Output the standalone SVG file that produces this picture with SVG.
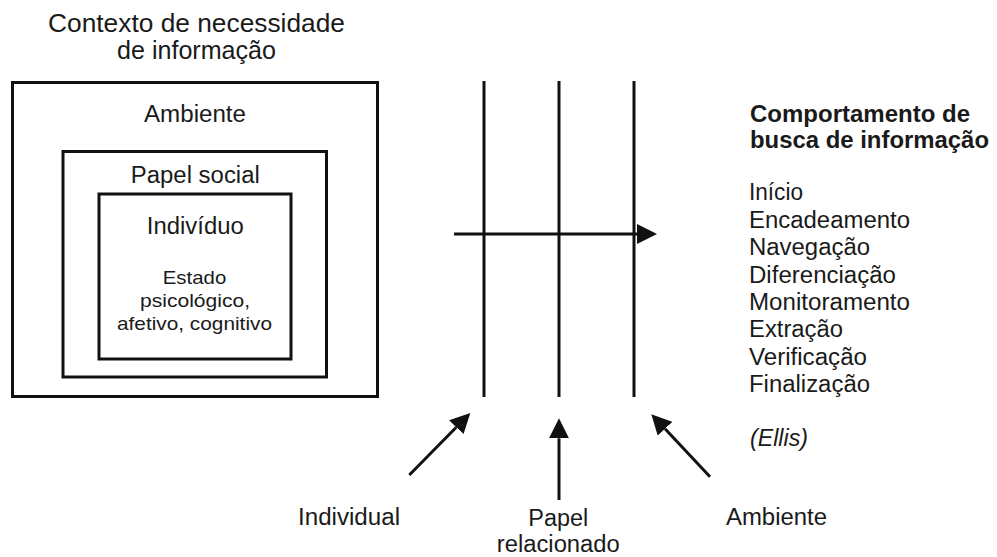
<svg xmlns="http://www.w3.org/2000/svg" width="997" height="557" viewBox="0 0 997 557">
<style>
text{font-family:"Liberation Sans",Arial,Helvetica,sans-serif;fill:#1a1a1a}
.t{font-size:26px;text-anchor:middle}
.b{font-size:23px;text-anchor:middle}
.s{font-size:19px;text-anchor:middle}
.h{font-size:23px;font-weight:bold}
.l{font-size:23px}
.c{font-size:23px;text-anchor:middle}
.box{fill:none;stroke:#111;stroke-width:3}
.ln{stroke:#111;stroke-width:3;fill:none}
</style>
<defs>
<marker id="ah" viewBox="0 0 20 20" refX="0" refY="10" markerWidth="20" markerHeight="20" markerUnits="userSpaceOnUse" orient="auto">
<path d="M0,0 L20,10 L0,20 Z" fill="#111"/>
</marker>
</defs>
<rect width="997" height="557" fill="#fff"/>
<g id="title">
<text class="t" x="196.5" y="31.5" textLength="297" lengthAdjust="spacingAndGlyphs">Contexto de necessidade</text>
<text class="t" x="196.5" y="59" textLength="159" lengthAdjust="spacingAndGlyphs">de informação</text>
</g>
<g id="ambiente">
<rect class="box" x="12.5" y="82.5" width="365" height="314"/>
<text class="b" x="195" y="122" textLength="102" lengthAdjust="spacingAndGlyphs">Ambiente</text>
</g>
<g id="papel-social">
<rect class="box" x="63" y="151.5" width="263.5" height="225.5"/>
<text class="b" x="195.3" y="182.7" textLength="129" lengthAdjust="spacingAndGlyphs">Papel social</text>
</g>
<g id="individuo">
<rect class="box" x="99" y="194" width="192" height="165"/>
<text class="b" x="195.3" y="234.3" textLength="97" lengthAdjust="spacingAndGlyphs">Indivíduo</text>
<text class="s" x="194.5" y="284.3" textLength="63.5" lengthAdjust="spacingAndGlyphs">Estado</text>
<text class="s" x="195" y="307" textLength="110" lengthAdjust="spacingAndGlyphs">psicológico,</text>
<text class="s" x="194.5" y="330" textLength="155" lengthAdjust="spacingAndGlyphs">afetivo, cognitivo</text>
</g>
<g id="barreiras">
<line class="ln" x1="484" y1="81" x2="484" y2="397"/>
<line class="ln" x1="559" y1="81" x2="559" y2="397"/>
<line class="ln" x1="634" y1="81" x2="634" y2="397"/>
</g>
<g id="comportamento">
<text class="h" x="750" y="122" textLength="220" lengthAdjust="spacingAndGlyphs">Comportamento de</text>
<text class="h" x="750" y="148" textLength="239" lengthAdjust="spacingAndGlyphs">busca de informação</text>
<text class="l" x="749" y="200" textLength="54" lengthAdjust="spacingAndGlyphs">Início</text>
<text class="l" x="749" y="227.5" textLength="161" lengthAdjust="spacingAndGlyphs">Encadeamento</text>
<text class="l" x="749" y="255" textLength="121" lengthAdjust="spacingAndGlyphs">Navegação</text>
<text class="l" x="749" y="283" textLength="147" lengthAdjust="spacingAndGlyphs">Diferenciação</text>
<text class="l" x="749" y="310" textLength="161" lengthAdjust="spacingAndGlyphs">Monitoramento</text>
<text class="l" x="749" y="337" textLength="94" lengthAdjust="spacingAndGlyphs">Extração</text>
<text class="l" x="749" y="364.5" textLength="118" lengthAdjust="spacingAndGlyphs">Verificação</text>
<text class="l" x="749" y="392" textLength="121" lengthAdjust="spacingAndGlyphs">Finalização</text>
<text class="l" x="750" y="446" font-style="italic" textLength="58" lengthAdjust="spacingAndGlyphs">(Ellis)</text>
</g>
<g id="label-individual"><text class="c" x="349" y="525" textLength="102" lengthAdjust="spacingAndGlyphs">Individual</text></g>
<g id="label-papel">
<text class="c" x="558.3" y="525.7" textLength="60" lengthAdjust="spacingAndGlyphs">Papel</text>
<text class="c" x="558.3" y="551.7" textLength="123" lengthAdjust="spacingAndGlyphs">relacionado</text>
</g>
<g id="label-ambiente"><text class="c" x="776.5" y="525" textLength="101" lengthAdjust="spacingAndGlyphs">Ambiente</text></g>
<g id="connectors">
<line class="ln" x1="454" y1="234" x2="637" y2="234" marker-end="url(#ah)"/>
<line class="ln" x1="409.3" y1="475" x2="456.3" y2="427.3" marker-end="url(#ah)"/>
<line class="ln" x1="559" y1="500" x2="559" y2="438.3" marker-end="url(#ah)"/>
<line class="ln" x1="710" y1="476.7" x2="665" y2="428.8" marker-end="url(#ah)"/>
</g>
</svg>
